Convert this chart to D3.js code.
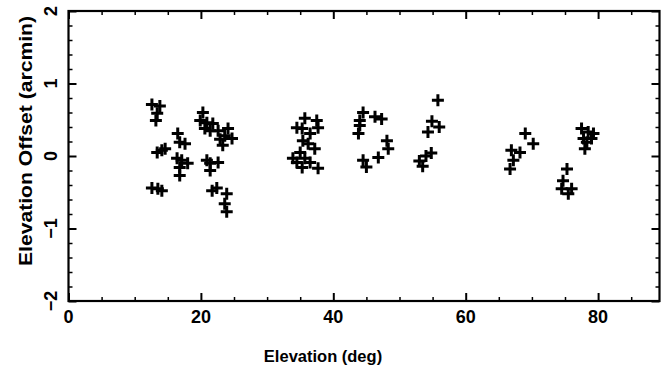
<!DOCTYPE html>
<html>
<head>
<meta charset="utf-8">
<script src="https://cdn.jsdelivr.net/npm/d3@7"></script>
<style>
  html, body { margin: 0; padding: 0; background: #fff; }
  svg { display: block; }
  text { font-family: "Liberation Sans", Arial, sans-serif; font-weight: bold; fill: #000; }
</style>
</head>
<body>
<svg id="chart" width="661" height="370"></svg>
<script>
// Elevation (deg) of each pointing measurement
const elevation = [
  12.6, 13.8, 13.4, 13.2, 13.4, 14.1, 14.6, 12.6, 13.5, 14.1,
  16.5, 16.8, 17.6, 16.4, 17.1, 18.0, 16.8, 16.8,
  20.3, 19.9, 20.9, 21.8, 20.6, 21.4, 22.6, 24.1, 23.6, 24.7, 23.3, 22.9,
  20.9, 21.4, 22.6, 21.4, 21.7, 22.4, 23.9, 23.6, 23.9,
  35.7, 37.5, 34.5, 35.3, 37.7, 36.5, 35.4, 36.2, 37.2, 35.0, 33.9, 35.7, 34.5, 36.5, 35.3, 37.7,
  44.5, 44.0, 46.3, 47.3, 44.0, 43.8, 48.1, 48.3, 46.8, 44.5, 45.0,
  55.8, 54.9, 56.0, 54.3, 54.8, 54.0, 53.0, 53.5,
  69.0, 70.2, 66.9, 68.2, 67.2, 66.7,
  75.3, 74.7, 74.5, 76.0, 75.5,
  77.5, 78.5, 79.3, 77.8, 78.3, 79.0, 78.0
];
// Elevation offset (arcmin) measured at each elevation
const offset = [
  0.71, 0.69, 0.59, 0.49, 0.05, 0.08, 0.10, -0.44, -0.45, -0.48,
  0.31, 0.19, 0.17, -0.03, -0.06, -0.10, -0.16, -0.27,
  0.60, 0.49, 0.46, 0.45, 0.38, 0.35, 0.35, 0.38, 0.28, 0.24, 0.15, 0.23,
  -0.06, -0.10, -0.09, -0.20, -0.48, -0.44, -0.52, -0.66, -0.77,
  0.52, 0.49, 0.39, 0.38, 0.39, 0.31, 0.21, 0.17, 0.10, 0.05, -0.03, -0.03, -0.09, -0.09, -0.16, -0.17,
  0.60, 0.49, 0.54, 0.51, 0.42, 0.31, 0.21, 0.10, -0.02, -0.06, -0.15,
  0.77, 0.48, 0.40, 0.33, 0.04, 0.00, -0.07, -0.14,
  0.31, 0.17, 0.08, 0.05, -0.06, -0.18,
  -0.18, -0.34, -0.45, -0.45, -0.52,
  0.38, 0.33, 0.31, 0.24, 0.19, 0.24, 0.10
];
const xTicks = [0, 20, 40, 60, 80];
const yTicks = [-2, -1, 0, 1, 2];
const xDomain = [0, 90];
const yDomain = [-2, 2];

const W = 661, H = 370;
const svg = d3.select("#chart");

const x = d3.scaleLinear().domain(xDomain).range([68.5, 664.3]);
const y = d3.scaleLinear().domain(yDomain).range([301, 11]);

const frameL = x(xDomain[0]);
const frameR = Math.min(x(xDomain[1]), W - 1.5);
const frameT = y(yDomain[1]);
const frameB = y(yDomain[0]);

const xMinor = d3.range(xDomain[0], xDomain[1] + 0.001, 5).filter(v => !xTicks.includes(v));
const yMinor = d3.range(-2, 2.001, 0.2).map(v => +v.toFixed(1)).filter(v => !yTicks.includes(v));

// frame-side axes, ticks pointing inward
function axisGroup(axisFn, scale, ticks, size, tx, ty) {
  const g = svg.append("g").attr("transform", `translate(${tx},${ty})`)
    .call(axisFn(scale).tickValues(ticks).tickSize(size).tickFormat(""));
  g.select(".domain").remove();
  g.selectAll(".tick line").attr("stroke", "#000").attr("stroke-width", 2);
  return g;
}
// bottom
axisGroup(d3.axisTop, x, xTicks, 8, 0, frameB);
axisGroup(d3.axisTop, x, xMinor, 4, 0, frameB).selectAll(".tick line").attr("stroke-width", 1.5);
// top
axisGroup(d3.axisBottom, x, xTicks, 8, 0, frameT);
axisGroup(d3.axisBottom, x, xMinor, 4, 0, frameT).selectAll(".tick line").attr("stroke-width", 1.5);
// left
axisGroup(d3.axisRight, y, yTicks, 8, frameL, 0);
axisGroup(d3.axisRight, y, yMinor, 4, frameL, 0).selectAll(".tick line").attr("stroke-width", 1.5);
// right
axisGroup(d3.axisLeft, y, yTicks, 8, frameR, 0);
axisGroup(d3.axisLeft, y, yMinor, 4, frameR, 0).selectAll(".tick line").attr("stroke-width", 1.5);

// plot frame
svg.append("rect")
  .attr("x", frameL).attr("y", frameT)
  .attr("width", frameR - frameL).attr("height", frameB - frameT)
  .attr("fill", "none").attr("stroke", "#000").attr("stroke-width", 2.2);

// tick labels
svg.append("g").selectAll("text").data(xTicks).join("text")
  .attr("x", d => x(d)).attr("y", 323)
  .attr("text-anchor", "middle").attr("font-size", 18)
  .text(d => d);

svg.append("g").selectAll("text").data(yTicks).join("text")
  .attr("transform", d => `translate(57,${y(d)}) rotate(-90)`)
  .attr("text-anchor", "middle").attr("font-size", 18)
  .text(d => d < 0 ? "\u2212" + Math.abs(d) : d);

// axis titles
svg.append("text")
  .attr("x", 323).attr("y", 362)
  .attr("text-anchor", "middle").attr("font-size", 16.5)
  .text("Elevation (deg)");

svg.append("text")
  .attr("transform", `translate(32,141) rotate(-90)`)
  .attr("text-anchor", "middle").attr("font-size", 17.5)
  .attr("textLength", 250).attr("lengthAdjust", "spacingAndGlyphs")
  .text("Elevation Offset (arcmin)");

// plus-sign markers
const arm = 6;
svg.append("g").selectAll("path").data(elevation.map((e, i) => [e, offset[i]])).join("path")
  .attr("d", d => {
    const cx = x(d[0]), cy = y(d[1]);
    return `M${cx - arm},${cy}H${cx + arm}M${cx},${cy - arm}V${cy + arm}`;
  })
  .attr("stroke", "#000").attr("stroke-width", 3).attr("fill", "none");
</script>
</body>
</html>
